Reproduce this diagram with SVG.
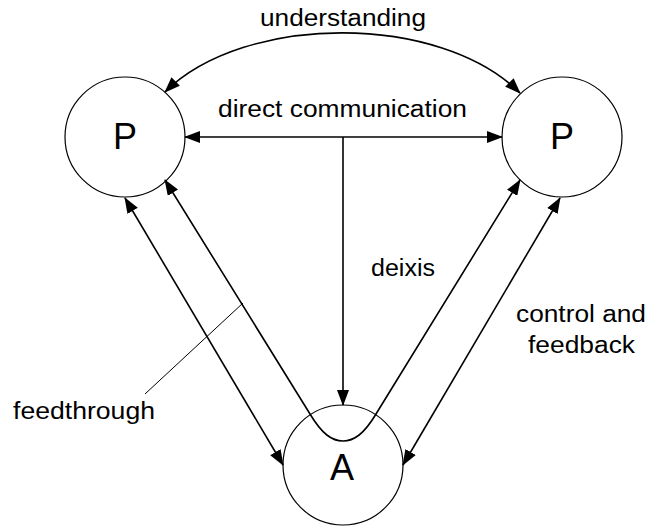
<svg xmlns="http://www.w3.org/2000/svg" width="647" height="527" viewBox="0 0 647 527">
<style>
.node{fill:#fff;stroke:#000;stroke-width:1.2}
.lbl{font-family:"Liberation Sans",Arial,sans-serif;font-size:23px;fill:#000}
.big{font-family:"Liberation Sans",Arial,sans-serif;font-size:36px;fill:#000;text-anchor:middle}
.c{fill:none;stroke:#000;stroke-width:1.6}
.thin{fill:none;stroke:#000;stroke-width:1}
</style>
<defs>
<marker id="ah" viewBox="0 0 16 12" refX="15" refY="6" markerWidth="16" markerHeight="12" markerUnits="userSpaceOnUse" orient="auto-start-reverse">
<path d="M0,0 L16,6 L0,12 z" fill="#000"/>
</marker>
</defs>
<rect width="647" height="527" fill="#fff"/>
<g id="P1"><circle class="node" cx="125" cy="137" r="60"/><text class="big" x="125" y="149">P</text></g>
<g id="P2"><circle class="node" cx="562" cy="137" r="60"/><text class="big" x="562" y="149">P</text></g>
<g id="A"><circle class="node" cx="343" cy="465" r="60"/><text class="big" x="342" y="480">A</text></g>
<g id="connectors">
<path class="c" d="M165,92 C245,13 440,13 520,93" marker-start="url(#ah)" marker-end="url(#ah)"/>
<line class="c" x1="185" y1="137" x2="502" y2="137" marker-start="url(#ah)" marker-end="url(#ah)"/>
<line class="c" x1="343" y1="137" x2="343" y2="405" marker-end="url(#ah)"/>
<line class="c" x1="125" y1="198" x2="283" y2="465" marker-start="url(#ah)" marker-end="url(#ah)"/>
<line class="c" x1="560" y1="198" x2="403" y2="465" marker-start="url(#ah)" marker-end="url(#ah)"/>
<path class="c" d="M165,180 L310,414 C322,434 332,441 343,441 C354,441 364,434 376,414 L520,180" marker-start="url(#ah)" marker-end="url(#ah)"/>
<line class="thin" x1="243" y1="303" x2="145" y2="394"/>
</g>
<g id="labels">
<text class="lbl" x="260" y="26" textLength="166" lengthAdjust="spacingAndGlyphs">understanding</text>
<text class="lbl" x="218" y="117" textLength="249" lengthAdjust="spacingAndGlyphs">direct communication</text>
<text class="lbl" x="371" y="276" textLength="64" lengthAdjust="spacingAndGlyphs">deixis</text>
<text class="lbl" x="516" y="322" textLength="130" lengthAdjust="spacingAndGlyphs">control and</text>
<text class="lbl" x="528" y="353" textLength="107" lengthAdjust="spacingAndGlyphs">feedback</text>
<text class="lbl" x="13" y="419" textLength="142" lengthAdjust="spacingAndGlyphs">feedthrough</text>
</g>
</svg>
